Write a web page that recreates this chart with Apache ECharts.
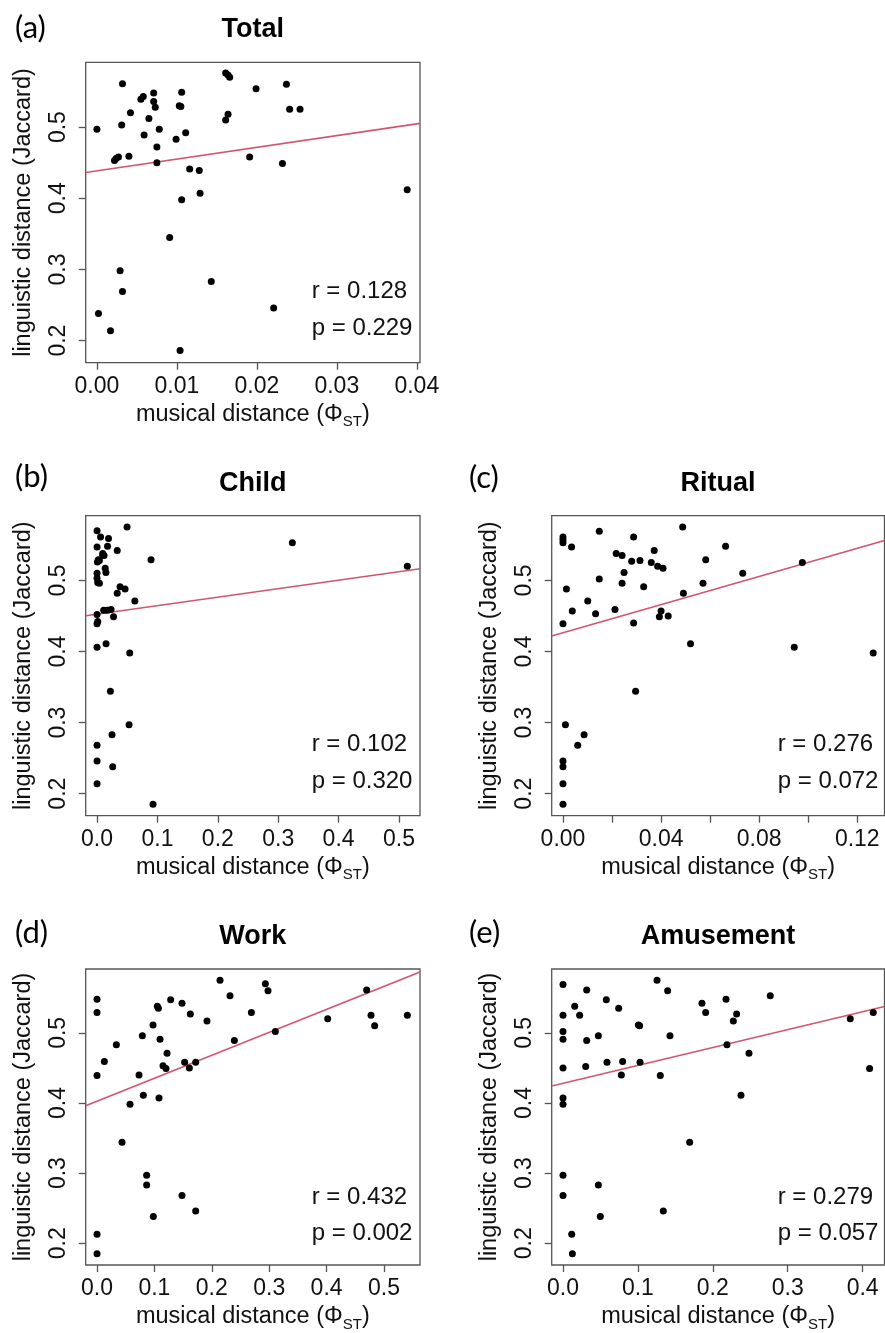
<!DOCTYPE html>
<html>
<head>
<meta charset="utf-8">
<script src="https://cdn.jsdelivr.net/npm/echarts@6/dist/echarts.min.js"></script>
<style>
body { margin: 0; padding: 0; background: #fff; }
#main { width: 885px; height: 1333px; }
</style>
</head>
<body>
<div id="main"></div>
<script>
// values
const totalX = [0, 0.0032, 0.0071, 0.0106, 0.0055, 0.0058, 0.0071, 0.0073, 0.0103, 0.0105, 0.0042, 0.0065, 0.0031, 0.0059, 0.0078, 0.0111, 0.0099, 0.0075, 0.0075, 0.0040, 0.0022, 0.0024, 0.0027, 0.0116, 0.0128, 0.0129, 0.0106, 0.0091, 0.0029, 0.0032, 0.0002, 0.0017, 0.0104, 0.0143, 0.0221, 0.0161, 0.0164, 0.0166, 0.0161, 0.0164, 0.0199, 0.0237, 0.0241, 0.0254, 0.0191, 0.0232, 0.0388];
const totalY = [0.497, 0.561, 0.548, 0.549, 0.539, 0.543, 0.536, 0.528, 0.530, 0.529, 0.520, 0.512, 0.503, 0.489, 0.497, 0.492, 0.483, 0.472, 0.450, 0.459, 0.453, 0.456, 0.458, 0.441, 0.439, 0.407, 0.398, 0.345, 0.298, 0.269, 0.238, 0.214, 0.186, 0.283, 0.246, 0.576, 0.573, 0.570, 0.510, 0.518, 0.554, 0.560, 0.525, 0.525, 0.458, 0.449, 0.412];

const childX = [0, 0.0497, 0.3234, 0.5138, 0.0894, 0, 0.0058, 0.0190, 0.0174, 0.0334, 0.0094, 0.0116, 0.0006, 0.0039, 0.0135, 0.0147, 0, 0, 0.0011, 0.0039, 0.0381, 0.0464, 0.0334, 0.0626, 0, 0.0110, 0.0171, 0.0232, 0.0273, 0, 0.0011, 0.0149, 0, 0.0541, 0.0221, 0.0530, 0.0248, 0, 0, 0.0259, 0, 0.0927, 0.0022, 0.0094];
const childY = [0.570, 0.575, 0.553, 0.520, 0.529, 0.547, 0.561, 0.559, 0.548, 0.542, 0.538, 0.535, 0.526, 0.528, 0.517, 0.511, 0.510, 0.503, 0.497, 0.496, 0.491, 0.488, 0.482, 0.471, 0.452, 0.458, 0.458, 0.459, 0.449, 0.439, 0.442, 0.411, 0.406, 0.398, 0.344, 0.297, 0.283, 0.268, 0.246, 0.238, 0.214, 0.185, 0.529, 0.535];

const ritualX = [0, 0, 0, 0.0035, 0.0148, 0.0288, 0.0488, 0.0217, 0.0241, 0.0372, 0.0280, 0.0314, 0.0360, 0.0386, 0.0408, 0.0249, 0.0663, 0.0582, 0.0976, 0.0733, 0.0148, 0.0241, 0.0571, 0.0329, 0.0014, 0.0491, 0.0101, 0.0038, 0.0133, 0.0212, 0.0400, 0.0393, 0.0429, 0.0288, 0, 0.0520, 0.0943, 0.1265, 0.0296, 0.0010, 0.0086, 0.0060, 0, 0, 0, 0];
const ritualY = [0.561, 0.557, 0.553, 0.547, 0.569, 0.561, 0.575, 0.538, 0.535, 0.542, 0.527, 0.528, 0.525, 0.520, 0.517, 0.511, 0.548, 0.529, 0.525, 0.510, 0.502, 0.496, 0.496, 0.491, 0.488, 0.482, 0.471, 0.457, 0.453, 0.459, 0.457, 0.449, 0.450, 0.440, 0.439, 0.411, 0.406, 0.398, 0.344, 0.297, 0.283, 0.268, 0.246, 0.238, 0.214, 0.185];

const workX = [0, 0, 0, 0, 0, 0.0128, 0.0337, 0.0575, 0.0436, 0.0732, 0.0790, 0.0807, 0.0865, 0.0865, 0.0981, 0.0976, 0.1051, 0.1069, 0.1283, 0.1098, 0.1080, 0.1220, 0.1150, 0.1202, 0.1481, 0.1626, 0.1527, 0.1609, 0.1719, 0.1481, 0.1719, 0.1916, 0.2143, 0.2317, 0.2393, 0.2689, 0.2933, 0.2979, 0.3107, 0.4019, 0.4698, 0.4774, 0.4837, 0.5407];
const workY = [0.548, 0.529, 0.439, 0.213, 0.185, 0.459, 0.483, 0.398, 0.344, 0.440, 0.496, 0.411, 0.297, 0.283, 0.238, 0.511, 0.538, 0.535, 0.547, 0.491, 0.407, 0.471, 0.453, 0.449, 0.542, 0.527, 0.458, 0.450, 0.458, 0.268, 0.246, 0.517, 0.575, 0.553, 0.489, 0.529, 0.570, 0.560, 0.502, 0.520, 0.561, 0.525, 0.510, 0.525];

const amuseX = [0, 0, 0, 0, 0, 0, 0, 0, 0, 0.0116, 0.0125, 0.0156, 0.0222, 0.0316, 0.0316, 0.0303, 0.0472, 0.0472, 0.0498, 0.0578, 0.0587, 0.0743, 0.0796, 0.0779, 0.1006, 0.1023, 0.1028, 0.1255, 0.1397, 0.1428, 0.1299, 0.1339, 0.1691, 0.1855, 0.1904, 0.2176, 0.2189, 0.2274, 0.2318, 0.2483, 0.2376, 0.2767, 0.3835, 0.4142, 0.4093];
const amuseY = [0.569, 0.525, 0.502, 0.491, 0.450, 0.407, 0.398, 0.297, 0.268, 0.213, 0.185, 0.538, 0.525, 0.561, 0.489, 0.452, 0.496, 0.283, 0.238, 0.547, 0.458, 0.535, 0.459, 0.440, 0.511, 0.510, 0.458, 0.575, 0.560, 0.496, 0.439, 0.246, 0.344, 0.542, 0.529, 0.548, 0.483, 0.517, 0.527, 0.471, 0.411, 0.553, 0.520, 0.529, 0.449];

// regression lines (intercept, slope)
const fitIntercept = [0.4385, 0.4525, 0.4263, 0.4024, 0.428];
const fitSlope = [1.65, 0.1194, 0.990, 0.3276, 0.2549];

const titles = ["Total", "Child", "Ritual", "Work", "Amusement"];
const panelLetters = ["(a)", "(b)", "(c)", "(d)", "(e)"];
const rValues = ["0.128", "0.102", "0.276", "0.432", "0.279"];
const pValues = ["0.229", "0.320", "0.072", "0.002", "0.057"];

const xTicks = [
  [0, 0.01, 0.02, 0.03, 0.04],
  [0, 0.1, 0.2, 0.3, 0.4, 0.5],
  [0, 0.02, 0.04, 0.06, 0.08, 0.1, 0.12],
  [0, 0.1, 0.2, 0.3, 0.4, 0.5],
  [0, 0.1, 0.2, 0.3, 0.4]
];
const xLabels = [
  [0, 0.01, 0.02, 0.03, 0.04],
  [0, 0.1, 0.2, 0.3, 0.4, 0.5],
  [0, 0.04, 0.08, 0.12],
  [0, 0.1, 0.2, 0.3, 0.4, 0.5],
  [0, 0.1, 0.2, 0.3, 0.4]
];
const xDecimals = [2, 1, 2, 1, 1];
const yTicks = [0.2, 0.3, 0.4, 0.5];

const xData = [totalX, childX, ritualX, workX, amuseX];
const yData = [totalY, childY, ritualY, workY, amuseY];

// layout
const grids = [
  { left: 85.7, top: 62.3, width: 334.3, height: 300.4 },
  { left: 85.7, top: 515.7, width: 334.3, height: 300 },
  { left: 551.7, top: 515.7, width: 332.8, height: 300 },
  { left: 85.7, top: 969, width: 334.3, height: 299.3 },
  { left: 551.7, top: 969, width: 332.8, height: 299.3 }
];
const xRanges = [[-0.0014, 0.0404], [-0.0188, 0.5348], [-0.0046, 0.1311], [-0.0197, 0.5627], [-0.0151, 0.4292]];
const yRange = [0.169, 0.591];
const titleY = [30, 483.3, 483.3, 936.7, 936.7];
const letterY = [28, 477, 478, 933, 933];

const font = '"Liberation Sans", Arial, sans-serif';
const boxColor = "#555";
const fitColor = "#d0566f";

let chart = echarts.init(document.getElementById("main"));

let option = {
  animation: false,
  backgroundColor: "#fff",
  grid: [],
  xAxis: [],
  yAxis: [],
  series: [],
  graphic: []
};

for (let i = 0; i < 5; i++) {
  const g = grids[i];
  const right = (i === 2 || i === 4);
  option.grid.push({
    left: g.left, top: g.top, width: g.width, height: g.height,
    show: true, borderColor: boxColor, borderWidth: 1.3, backgroundColor: "transparent"
  });
  const dec = xDecimals[i];
  option.xAxis.push({
    type: "value", gridIndex: i,
    min: xRanges[i][0], max: xRanges[i][1],
    splitLine: { show: false },
    axisLine: { show: false, onZero: false },
    axisTick: { show: true, length: 7, customValues: xTicks[i], lineStyle: { color: boxColor, width: 1.3 } },
    axisLabel: {
      customValues: xLabels[i], margin: 12, fontSize: 23, color: "#111", fontFamily: font,
      formatter: (v) => v.toFixed(dec)
    },
    name: "{n|musical distance (Φ}{s|ST}{n|)}",
    nameLocation: "middle", nameGap: 37,
    nameTextStyle: {
      rich: {
        n: { fontSize: 23.5, fontFamily: font, color: "#111", lineHeight: 30 },
        s: { fontSize: 15, fontFamily: font, color: "#111", lineHeight: 15, verticalAlign: "bottom" }
      }
    }
  });
  option.yAxis.push({
    type: "value", gridIndex: i,
    min: yRange[0], max: yRange[1],
    splitLine: { show: false },
    axisLine: { show: false, onZero: false },
    axisTick: { show: true, length: 7, customValues: yTicks, lineStyle: { color: boxColor, width: 1.3 } },
    axisLabel: {
      customValues: yTicks, margin: 16, rotate: 90, fontSize: 23, color: "#111", fontFamily: font,
      formatter: (v) => v.toFixed(1)
    },
    name: "linguistic distance (Jaccard)",
    nameLocation: "middle", nameGap: 50,
    nameTextStyle: { fontSize: 23.5, fontFamily: font, color: "#111" }
  });

  let pts = xData[i].map((x, k) => [x, yData[i][k]]);
  option.series.push({
    type: "scatter", xAxisIndex: i, yAxisIndex: i,
    data: pts, symbolSize: 7, itemStyle: { color: "#000", opacity: 1 }, silent: true
  });
  const x0 = xRanges[i][0], x1 = xRanges[i][1];
  option.series.push({
    type: "line", xAxisIndex: i, yAxisIndex: i, showSymbol: false, silent: true,
    data: [[x0, fitIntercept[i] + fitSlope[i] * x0], [x1, fitIntercept[i] + fitSlope[i] * x1]],
    lineStyle: { color: fitColor, width: 1.6 }, z: 1
  });

  // panel title and letter
  option.graphic.push({
    type: "text", x: right ? 718 : g.left + g.width / 2, y: titleY[i],
    style: { text: titles[i], font: "bold 27px " + font, fill: "#000", align: "center", verticalAlign: "middle" }
  });
  option.graphic.push({
    type: "text", x: right ? 469 : 15, y: letterY[i],
    style: { text: panelLetters[i], font: '31px Lato, "Open Sans", sans-serif', fill: "#000", verticalAlign: "middle" }
  });

  const rx = right ? 777.7 : 311.7;
  const ry = g.top + g.height - 71;
  option.graphic.push({
    type: "text", x: rx, y: ry,
    style: { text: "r = " + rValues[i], font: "24px " + font, fill: "#111", verticalAlign: "middle" }
  });
  option.graphic.push({
    type: "text", x: rx, y: ry + 36.5,
    style: { text: "p = " + pValues[i], font: "24px " + font, fill: "#111", verticalAlign: "middle" }
  });
}

chart.setOption(option);
</script>
</body>
</html>
